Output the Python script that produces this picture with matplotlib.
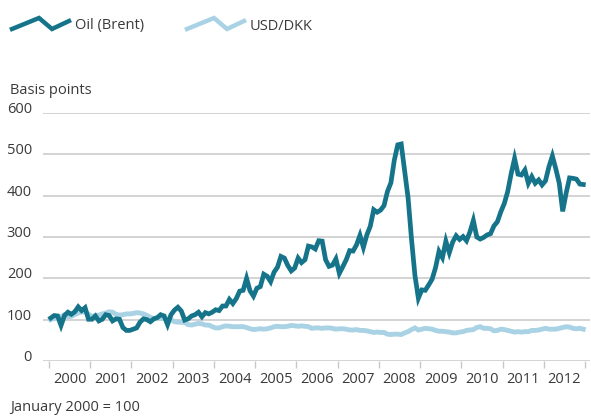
import numpy as np
import matplotlib
matplotlib.use("Agg")
import matplotlib.pyplot as plt
from matplotlib.lines import Line2D

plt.rcParams['font.family'] = ['Open Sans', 'DejaVu Sans']

# Monthly index values, January 2000 = 100 (Jan 2000 .. Dec 2012)
oil_brent = [
    104, 110, 109, 86, 110, 118, 113, 119, 131, 122, 129, 101,   # 2000
    101, 109, 97, 101, 112, 110, 97, 102, 101, 81, 74, 74,       # 2001
    77, 80, 94, 102, 100, 95, 102, 105, 112, 109, 88, 112,       # 2002
    123, 130, 121, 99, 102, 109, 112, 118, 107, 117, 114, 118,   # 2003
    124, 122, 133, 133, 149, 139, 151, 169, 171, 200, 170, 157,  # 2004
    176, 180, 210, 205, 192, 215, 227, 253, 249, 231, 218, 225,  # 2005
    249, 238, 245, 278, 276, 271, 291, 290, 245, 229, 232, 247,  # 2006
    212, 228, 245, 267, 266, 281, 304, 275, 305, 326, 366, 360,  # 2007
    365, 376, 410, 431, 486, 523, 525, 460, 395, 295, 207, 152,  # 2008
    172, 171, 184, 198, 226, 265, 250, 290, 262, 288, 303, 294,  # 2009
    301, 291, 312, 340, 300, 295, 299, 305, 308, 327, 337, 361,  # 2010
    381, 410, 453, 490, 452, 450, 462, 430, 446, 430, 438, 426,  # 2011
    436, 470, 496, 465, 430, 362, 406, 443, 442, 440, 428, 427,  # 2012
]
usd_dkk = [
    100, 103, 105, 107, 112, 107, 108, 112, 116, 119, 118, 113,  # 2000
    108, 110, 111, 114, 116, 119, 118, 113, 111, 112, 114, 114,  # 2001
    115, 117, 116, 114, 110, 106, 102, 104, 103, 103, 101, 100,  # 2002
    95, 94, 94, 93, 88, 87, 89, 91, 90, 87, 87, 83,              # 2003
    80, 80, 83, 85, 84, 83, 83, 83, 83, 81, 78, 76,              # 2004
    77, 78, 77, 78, 80, 83, 84, 83, 83, 84, 86, 85,              # 2005
    84, 85, 84, 83, 79, 80, 80, 79, 80, 80, 79, 77,              # 2006
    78, 78, 77, 75, 75, 76, 74, 74, 73, 71, 69, 70,              # 2007
    69, 69, 65, 64, 65, 65, 64, 68, 71, 76, 80, 75,              # 2008
    77, 79, 78, 77, 74, 72, 72, 71, 70, 68, 68, 70,              # 2009
    71, 74, 75, 76, 81, 83, 79, 79, 78, 73, 74, 77,              # 2010
    76, 74, 72, 70, 71, 70, 71, 71, 74, 74, 75, 77,              # 2011
    79, 77, 77, 77, 79, 81, 83, 82, 79, 78, 79, 77,              # 2012
]
years = list(range(2000, 2013))
y_ticks = [0, 100, 200, 300, 400, 500, 600]

oil_color = '#15748a'
usd_color = '#a9d2e5'
grid_color = '#c8c8c8'
text_color = '#3a3a3a'

# mid-month positions in fractional years
t = 2000 + (np.arange(len(oil_brent)) + 0.5) / 12

fig = plt.figure(figsize=(5.91, 4.16), dpi=100)
ax = fig.add_axes([43 / 591, 1 - 361 / 416, 547 / 591, 248 / 416])

ax.plot(t, usd_dkk, color=usd_color, lw=3.5, solid_joinstyle='miter', zorder=3)
ax.plot(t, oil_brent, color=oil_color, lw=3.4, solid_joinstyle='miter', zorder=4)

ax.set_ylim(0, 600)
ax.set_xlim(2000 - 1.75 / 12, 2000 + 157.45 / 12)

for s in ax.spines.values():
    s.set_visible(False)

ax.set_yticks(y_ticks)
ax.set_yticklabels([str(v) for v in y_ticks])
ax.yaxis.grid(True, color=grid_color, lw=1.1)
ax.set_axisbelow(True)
ax.tick_params(axis='y', length=0, pad=8, labelsize=10.5, labelcolor=text_color)
for lab in ax.get_yticklabels():
    lab.set_verticalalignment('baseline')

# year boundaries as tick marks, labels centred in between
ax.set_xticks([y for y in years] + [2013])
ax.set_xticklabels([])
ax.set_xticks([y + 0.5 for y in years], minor=True)
ax.set_xticklabels([str(y) for y in years], minor=True)
ax.tick_params(axis='x', which='major', length=5, width=1, color=grid_color)
ax.tick_params(axis='x', which='minor', length=0, pad=8, labelsize=10.5,
               labelcolor=text_color)

fig.text(10 / 591, 1 - 94 / 416, 'Basis points', fontsize=10.5, color=text_color)
fig.text(10 / 591, 1 - 411 / 416, 'January 2000 = 100', fontsize=10.5,
         color=text_color)

# legend with zigzag keys
def legend_key(x0, color, label):
    xs = np.array([x0, x0 + 27, x0 + 40, x0 + 57]) / 591
    ys = 1 - np.array([29, 18, 29, 21]) / 416
    fig.add_artist(Line2D(xs, ys, color=color, lw=3.2, solid_joinstyle='miter',
                          transform=fig.transFigure))
    fig.text((x0 + 63) / 591, 1 - 26 / 416, label, fontsize=10.5,
             color=text_color, va='center')

legend_key(12, oil_color, 'Oil (Brent)')
legend_key(187, usd_color, 'USD/DKK')

fig.savefig('out.png', dpi=100)
